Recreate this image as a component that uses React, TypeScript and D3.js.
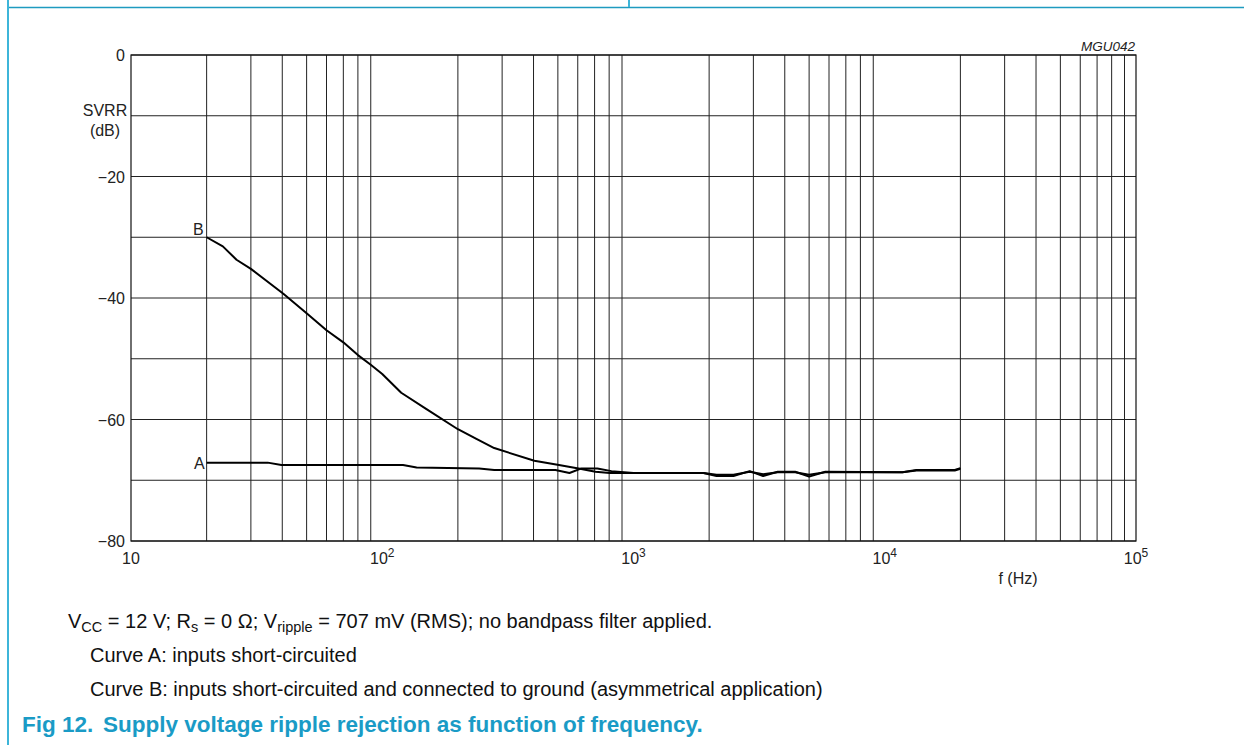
import React from 'react';
import * as d3 from 'd3';

// Curve B: inputs short-circuited and connected to ground
const freqB = [20, 23.2, 26.3, 30, 40.4, 50, 60, 70, 80, 90, 100, 119, 150, 200, 237, 279, 403, 505, 612, 706, 804, 1000, 1900, 2140, 2500, 2900, 3280, 3750, 4400, 5000, 5800, 11750, 13360, 19000, 20000];
const svrrB = [-30, -31.5, -33.7, -35.2, -39.3, -42.5, -45.3, -47.3, -49.4, -51.0, -52.5, -55.6, -58.3, -61.6, -63.2, -64.7, -66.8, -67.5, -68.1, -68.6, -68.8, -68.8, -68.8, -69.1, -69.1, -68.6, -69.0, -68.7, -68.7, -69.1, -68.7, -68.7, -68.4, -68.4, -68.1];

// Curve A: inputs short-circuited
const freqA = [20, 35, 39.7, 121, 137, 243, 279, 489, 556, 621, 718, 817, 1000, 1900, 2140, 2500, 2900, 3280, 3750, 4400, 5000, 5800, 11750, 13360, 19000, 20000];
const svrrA = [-67.1, -67.1, -67.5, -67.5, -67.9, -68.05, -68.3, -68.3, -68.8, -68.05, -68.05, -68.5, -68.8, -68.8, -69.3, -69.3, -68.5, -69.3, -68.6, -68.6, -69.4, -68.6, -68.7, -68.3, -68.3, -68.0];

const yTicks = [0, -20, -40, -60, -80];
const yGrid = [0, -10, -20, -30, -40, -50, -60, -70, -80];
const decades = [10, 100, 1000, 10000, 100000];
const decadeExp = ['', '2', '3', '4', '5'];

const FONT = '"Liberation Sans", Arial, sans-serif';
const BLUE = '#1a9bc6';

const App = () => {
  const x = d3.scaleLog().domain([10, 100000]).range([131, 1136]);
  const y = d3.scaleLinear().domain([-80, 0]).range([541, 55]);

  const minor: number[] = [];
  for (let d = 10; d < 100000; d *= 10) {
    for (let k = 2; k <= 9; k++) minor.push(d * k);
  }

  const line = d3.line<[number, number]>()
    .x(d => x(d[0]))
    .y(d => y(d[1]));

  const dataA = freqA.map((f, i) => [f, svrrA[i]] as [number, number]);
  const dataB = freqB.map((f, i) => [f, svrrB[i]] as [number, number]);

  return (
    <div style={{ position: 'absolute', left: 0, top: 0 }}>
      <svg width={1244} height={745} style={{ display: 'block', background: '#fff' }} fontFamily={FONT}>
        {/* page frame */}
        <line x1={8} y1={0} x2={8} y2={745} stroke="#3db5d9" strokeWidth={2} />
        <line x1={9} y1={7.5} x2={1244} y2={7.5} stroke="#1e9bc0" strokeWidth={1.5} />
        <line x1={629} y1={0} x2={629} y2={7} stroke="#3db5d9" strokeWidth={2} />

        {/* grid */}
        {minor.map(f => (
          <line key={'v' + f} x1={x(f)} x2={x(f)} y1={y(0)} y2={y(-80)} stroke="#222" strokeWidth={1} />
        ))}
        {yGrid.map(v => (
          <line key={'h' + v} x1={x(10)} x2={x(100000)} y1={y(v)} y2={y(v)} stroke="#222" strokeWidth={1} />
        ))}
        <rect x={x(10)} y={y(0)} width={x(100000) - x(10)} height={y(-80) - y(0)} fill="none" stroke="#111" strokeWidth={1.2} />

        {/* curves */}
        <path d={line(dataA) || ''} fill="none" stroke="#000" strokeWidth={2} strokeLinejoin="round" />
        <path d={line(dataB) || ''} fill="none" stroke="#000" strokeWidth={2} strokeLinejoin="round" />
        <text x={x(20) - 3} y={y(svrrB[0]) - 2} fontSize={16} textAnchor="end" fill="#222">B</text>
        <text x={x(20) - 2} y={y(svrrA[0]) + 6} fontSize={16} textAnchor="end" fill="#222">A</text>

        {/* y axis labels */}
        {yTicks.map(v => (
          <text key={'yt' + v} x={125} y={y(v) + 6} fontSize={16} textAnchor="end" fill="#222">
            {v === 0 ? '0' : '\u2212' + Math.abs(v)}
          </text>
        ))}
        <text x={105} y={116} fontSize={16} textAnchor="middle" fill="#222">SVRR</text>
        <text x={105} y={136} fontSize={16} textAnchor="middle" fill="#222">(dB)</text>

        {/* x axis labels */}
        {decades.map((f, i) => (
          <text key={'xt' + f} x={x(f)} y={564} fontSize={16} textAnchor="middle" fill="#222">
            10
            {decadeExp[i] && <tspan fontSize={12} dy={-7}>{decadeExp[i]}</tspan>}
          </text>
        ))}
        <text x={1018} y={584} fontSize={16} textAnchor="middle" fill="#222">f (Hz)</text>
        <text x={1135} y={51} fontSize={13.5} textAnchor="end" fontStyle="italic" fill="#222">MGU042</text>

        {/* notes */}
        <text x={68} y={628} fontSize={20} fill="#111">
          V<tspan fontSize={14.5} dy={4}>CC</tspan>
          <tspan dy={-4}> = 12 V; R</tspan>
          <tspan fontSize={14.5} dy={4}>s</tspan>
          <tspan dy={-4}> = 0 Ω; V</tspan>
          <tspan fontSize={14.5} dy={4}>ripple</tspan>
          <tspan dy={-4}> = 707 mV (RMS); no bandpass filter applied.</tspan>
        </text>
        <text x={90} y={662} fontSize={20} fill="#111">Curve A: inputs short-circuited</text>
        <text x={90} y={696} fontSize={20} fill="#111">Curve B: inputs short-circuited and connected to ground (asymmetrical application)</text>

        {/* caption */}
        <text x={22} y={732} fontSize={22.5} fontWeight="bold" fill={BLUE}>
          Fig 12.<tspan x={103}>Supply voltage ripple rejection as function of frequency.</tspan>
        </text>
      </svg>
    </div>
  );
};

export default App;
